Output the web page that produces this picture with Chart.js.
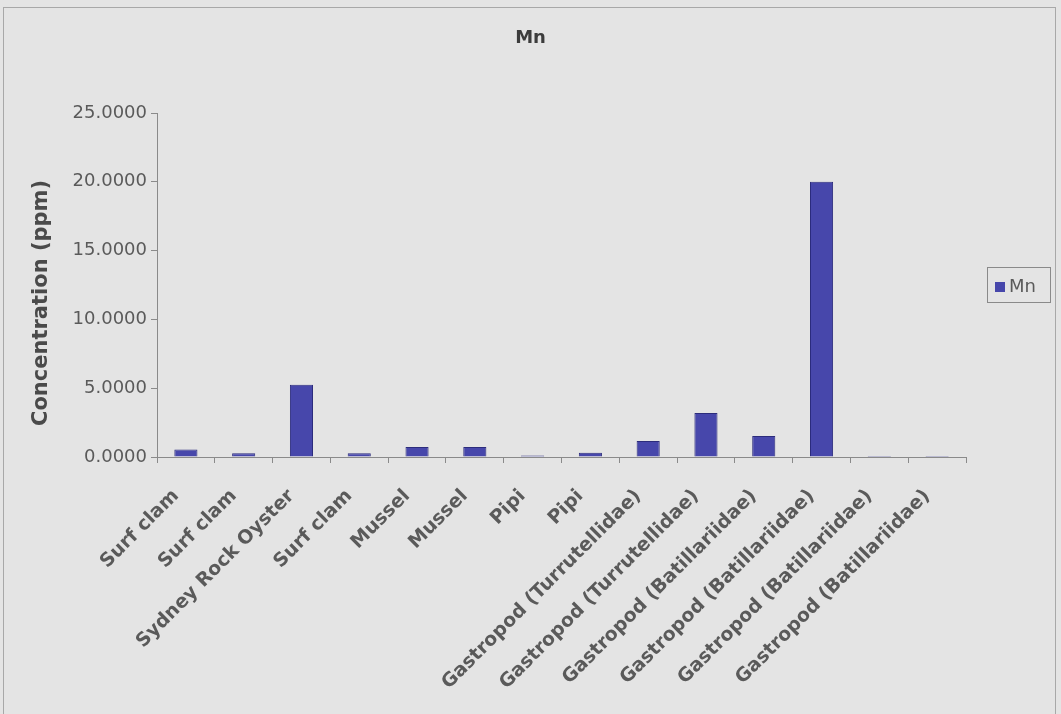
<!DOCTYPE html>
<html>
<head>
<meta charset="utf-8">
<script src="https://cdn.jsdelivr.net/npm/chart.js@4/dist/chart.umd.min.js"></script>
<style>
  html, body { margin: 0; padding: 0; background: #e4e4e4; }
  canvas { display: block; }
</style>
</head>
<body>
<canvas id="c" width="1061" height="714"></canvas>
<script>
const categories = [
  "Surf clam", "Surf clam", "Sydney Rock Oyster", "Surf clam", "Mussel", "Mussel",
  "Pipi", "Pipi", "Gastropod (Turrutellidae)", "Gastropod (Turrutellidae)",
  "Gastropod (Batillariidae)", "Gastropod (Batillariidae)",
  "Gastropod (Batillariidae)", "Gastropod (Batillariidae)"
];
const mnValues = [0.54, 0.27, 5.25, 0.27, 0.72, 0.72, 0.10, 0.30, 1.17, 3.20, 1.52, 20.00, 0.08, 0.08];
const yTicks = [0, 5, 10, 15, 20, 25];
const seriesName = "Mn";
const chartTitle = "Mn";
const yTitle = "Concentration (ppm)";

const BG = '#e4e4e4';
const BAR = '#4747ab';
const BAR_EDGE = '#2c2c7c';
const AXIS = '#8a8a8a';
const TXT = '#5a5a5a';
const FONT = "'DejaVu Sans', 'Liberation Sans', Arial, sans-serif";

const frame = {
  id: 'frame',
  beforeDraw(chart) {
    const ctx = chart.ctx;
    ctx.save();
    ctx.fillStyle = BG;
    ctx.fillRect(0, 0, chart.width, chart.height);
    ctx.strokeStyle = '#a8a8a8';
    ctx.lineWidth = 1;
    ctx.strokeRect(3.5, 7.5, 1052, 720);
    ctx.restore();
  },
  afterDraw(chart) {
    const ctx = chart.ctx;
    const area = chart.chartArea;
    ctx.save();
    // chart title
    ctx.fillStyle = '#3c3c3c';
    ctx.font = "bold 18px " + FONT;
    ctx.textAlign = 'center';
    ctx.textBaseline = 'middle';
    ctx.fillText(chartTitle, chart.width / 2, 38);
    // y axis title
    ctx.save();
    ctx.translate(42, (area.top + area.bottom) / 2 + 18);
    ctx.rotate(-Math.PI / 2);
    ctx.fillStyle = '#4a4a4a';
    ctx.font = "bold 21px " + FONT;
    ctx.fillText(yTitle, 0, 0);
    ctx.restore();
    // legend box
    ctx.strokeStyle = AXIS;
    ctx.lineWidth = 1;
    ctx.strokeRect(987.5, 267.5, 63, 35);
    ctx.fillStyle = BAR;
    ctx.fillRect(995, 282, 10, 10);
    ctx.fillStyle = TXT;
    ctx.font = "18px " + FONT;
    ctx.textBaseline = 'middle';
    ctx.textAlign = 'left';
    ctx.fillText(seriesName, 1009, 287);
    ctx.restore();
  }
};

new Chart(document.getElementById('c'), {
  type: 'bar',
  data: {
    labels: categories,
    datasets: [{
      label: seriesName,
      data: mnValues,
      backgroundColor: BAR,
      borderColor: BAR_EDGE,
      borderWidth: 1,
      barPercentage: 0.4,
      categoryPercentage: 1.0
    }]
  },
  options: {
    responsive: false,
    devicePixelRatio: 1,
    animation: false,
    layout: { padding: { left: 20, right: 95, top: 113, bottom: 0 } },
    plugins: {
      legend: { display: false },
      tooltip: { enabled: false },
      title: { display: false }
    },
    scales: {
      x: {
        afterFit(scale) { scale.height = 257; },
        grid: { display: true, drawOnChartArea: false, drawTicks: true, tickLength: 6, color: AXIS, offset: true },
        border: { display: true, color: AXIS },
        ticks: {
          autoSkip: false,
          maxRotation: 45,
          minRotation: 45,
          padding: 22,
          labelOffset: -10,
          color: TXT,
          font: { family: FONT, size: 19, weight: 'bold' }
        }
      },
      y: {
        min: 0,
        max: 25,
        afterFit(scale) { scale.width = 137; },
        afterBuildTicks(scale) { scale.ticks = yTicks.map(v => ({ value: v })); },
        grid: { display: true, drawOnChartArea: false, drawTicks: true, tickLength: 6, color: AXIS },
        border: { display: true, color: AXIS },
        ticks: {
          padding: 4,
          color: TXT,
          font: { family: FONT, size: 18 },
          callback: v => Number(v).toFixed(4)
        },
        title: { display: false }
      }
    }
  },
  plugins: [frame]
});
</script>
</body>
</html>
